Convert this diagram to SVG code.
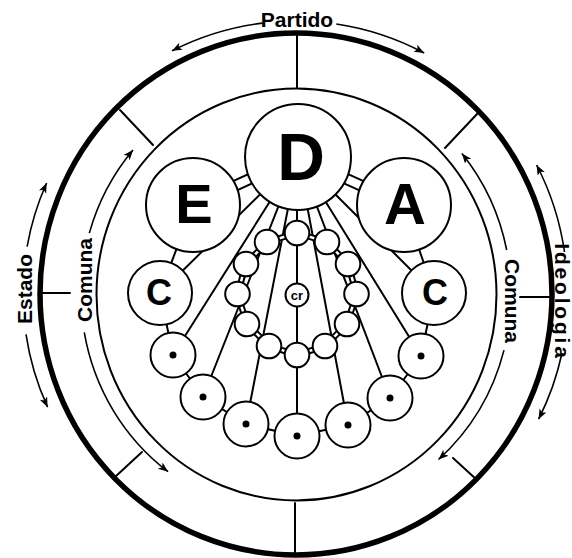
<svg xmlns="http://www.w3.org/2000/svg" width="572" height="558" viewBox="0 0 572 558">
<style>
.bg{fill:#fff}
.ln{stroke:#000;stroke-width:2;fill:none;stroke-linecap:round}
.thick{stroke:#000;stroke-width:5.5;fill:none}
.nd{fill:#fff;stroke:#000;stroke-width:2}
.arr{stroke:#000;stroke-width:1.6;fill:none;marker-end:url(#ah)}
.lbl{font-family:"Liberation Sans",Arial,sans-serif;font-weight:bold;font-size:21px;fill:#000}
.big{font-family:"Liberation Sans",Arial,sans-serif;font-weight:bold;fill:#000;text-anchor:middle}
.dot{fill:#000}
.dbl{stroke:#000;stroke-width:6.5;fill:none}
.dblw{stroke:#fff;stroke-width:2.5;fill:none}
</style>
<defs>
<marker id="ah" markerUnits="userSpaceOnUse" markerWidth="12" markerHeight="12" refX="10" refY="4" orient="auto">
<path d="M0,0 L10,4 L0,8 L2.5,4 Z" fill="#000"/>
</marker>
</defs>
<rect class="bg" x="0" y="0" width="572" height="558"/>

<g id="frame">
<ellipse class="thick" cx="296" cy="294" rx="256" ry="261"/>
<ellipse class="ln" cx="296.5" cy="294.5" rx="200" ry="206"/>
<line class="ln" x1="297" y1="33" x2="297" y2="88"/>
<line class="ln" x1="295" y1="503" x2="295" y2="555"/>
<line class="ln" x1="120" y1="110" x2="153" y2="145"/>
<line class="ln" x1="478" y1="113" x2="445" y2="148"/>
<line class="ln" x1="115" y1="477" x2="142" y2="452"/>
<line class="ln" x1="477" y1="480" x2="453" y2="458"/>
<line class="ln" x1="41" y1="293" x2="70" y2="293"/>
<line class="ln" x1="520" y1="297" x2="551" y2="297"/>
</g>

<g id="labels">
<text class="lbl" x="297" y="26.5" text-anchor="middle" font-size="20">Partido</text>
<path class="arr" d="M262.7,23.1 A273 273 0 0 0 172.1,50.8"/>
<path class="arr" d="M336.3,24 A273 273 0 0 1 424.2,53"/>
<text class="lbl" transform="translate(32,289) rotate(-90)" text-anchor="middle">Estado</text>
<path class="arr" d="M27.1,246.6 A273 273 0 0 1 46.6,183"/>
<path class="arr" d="M26,334.4 A273 273 0 0 0 47.6,407.2"/>
<text class="lbl" transform="translate(555,302) rotate(90)" text-anchor="middle" font-size="15" letter-spacing="2.8">Ideologia</text>
<path class="arr" d="M564.5,252 A273 273 0 0 0 536.6,165"/>
<path class="arr" d="M562,353 A273 273 0 0 1 538.6,419.2"/>
<text class="lbl" transform="translate(92,280) rotate(-90)" text-anchor="middle">Comuna</text>
<path class="arr" d="M89.3,233.1 A215 221 0 0 1 133,149.9"/>
<path class="arr" d="M84.3,332.4 A215 221 0 0 0 168.1,471.7"/>
<text class="lbl" transform="translate(505,301) rotate(90)" text-anchor="middle">Comuna</text>
<path class="arr" d="M506.7,250 A215 221 0 0 0 461.9,153.4"/>
<path class="arr" d="M504,350.1 A215 221 0 0 1 438.5,459.5"/>
</g>

<g id="connectors">
<line class="ln" x1="298" y1="157" x2="160" y2="293"/>
<line class="ln" x1="298" y1="157" x2="434" y2="293"/>
<line class="ln" x1="298" y1="157" x2="173" y2="355"/>
<line class="ln" x1="298" y1="157" x2="203" y2="397"/>
<line class="ln" x1="298" y1="157" x2="246" y2="424"/>
<line class="ln" x1="297" y1="157" x2="297" y2="436"/>
<line class="ln" x1="298" y1="157" x2="348" y2="425"/>
<line class="ln" x1="298" y1="157" x2="390" y2="398"/>
<line class="ln" x1="298" y1="157" x2="421" y2="356"/>
<line stroke="#000" stroke-width="12" x1="193" y1="205" x2="298" y2="157"/>
<line stroke="#fff" stroke-width="8" x1="193" y1="205" x2="298" y2="157"/>
<line stroke="#000" stroke-width="12" x1="404" y1="205" x2="298" y2="157"/>
<line stroke="#fff" stroke-width="8" x1="404" y1="205" x2="298" y2="157"/>
<line class="ln" x1="193" y1="205" x2="160" y2="293"/>
<line class="ln" x1="404" y1="205" x2="434" y2="293"/>
<line class="ln" x1="160" y1="293" x2="173" y2="355"/>
<line class="ln" x1="434" y1="293" x2="421" y2="356"/>
<polyline class="ln" points="173,355 203,397 246,424 297,436 348,425 390,398 421,356"/>
<polyline class="dbl" points="297,233 267,242 246,264 237.5,294 247,324 269,346 297,355 325,346 347,324 356.5,294 348,264 327,242 297,233"/>
<polyline class="dblw" points="297,233 267,242 246,264 237.5,294 247,324 269,346 297,355 325,346 347,324 356.5,294 348,264 327,242 297,233"/>
</g>

<g id="node-D"><circle class="nd" cx="298" cy="157" r="53"/><text class="big" x="301" y="180" font-size="66">D</text></g>
<g id="node-E"><circle class="nd" cx="193" cy="205" r="47"/><text class="big" x="194" y="223" font-size="56">E</text></g>
<g id="node-A"><circle class="nd" cx="404" cy="205" r="47"/><text class="big" x="405" y="224" font-size="58">A</text></g>
<g id="node-C-left"><circle class="nd" cx="160" cy="293" r="32"/><text class="big" x="159" y="305" font-size="36">C</text></g>
<g id="node-C-right"><circle class="nd" cx="434" cy="293" r="32"/><text class="big" x="435" y="305" font-size="36">C</text></g>

<g id="ring">
<circle class="nd" cx="297" cy="233" r="12.3"/>
<circle class="nd" cx="267" cy="242" r="12.3"/>
<circle class="nd" cx="246" cy="264" r="12.3"/>
<circle class="nd" cx="237.5" cy="294" r="12.3"/>
<circle class="nd" cx="247" cy="324" r="12.3"/>
<circle class="nd" cx="269" cy="346" r="12.3"/>
<circle class="nd" cx="297" cy="355" r="12.3"/>
<circle class="nd" cx="325" cy="346" r="12.3"/>
<circle class="nd" cx="347" cy="324" r="12.3"/>
<circle class="nd" cx="356.5" cy="294" r="12.3"/>
<circle class="nd" cx="348" cy="264" r="12.3"/>
<circle class="nd" cx="327" cy="242" r="12.3"/>
</g>
<g id="node-cr"><circle class="nd" cx="297" cy="295" r="11.5"/><text class="big" x="297" y="299.5" font-size="13">cr</text></g>

<g id="base-nodes">
<g id="b1"><circle class="nd" cx="173" cy="355" r="22.5"/><circle class="dot" cx="173" cy="355" r="3.5"/></g>
<g id="b2"><circle class="nd" cx="203" cy="397" r="22.5"/><circle class="dot" cx="203" cy="397" r="3.5"/></g>
<g id="b3"><circle class="nd" cx="246" cy="424" r="22.5"/><circle class="dot" cx="246" cy="424" r="3.5"/></g>
<g id="b4"><circle class="nd" cx="297" cy="436" r="22.5"/><circle class="dot" cx="297" cy="436" r="3.5"/></g>
<g id="b5"><circle class="nd" cx="348" cy="425" r="22.5"/><circle class="dot" cx="348" cy="425" r="3.5"/></g>
<g id="b6"><circle class="nd" cx="390" cy="398" r="22.5"/><circle class="dot" cx="390" cy="398" r="3.5"/></g>
<g id="b7"><circle class="nd" cx="421" cy="356" r="22.5"/><circle class="dot" cx="421" cy="356" r="3.5"/></g>
</g>
</svg>
